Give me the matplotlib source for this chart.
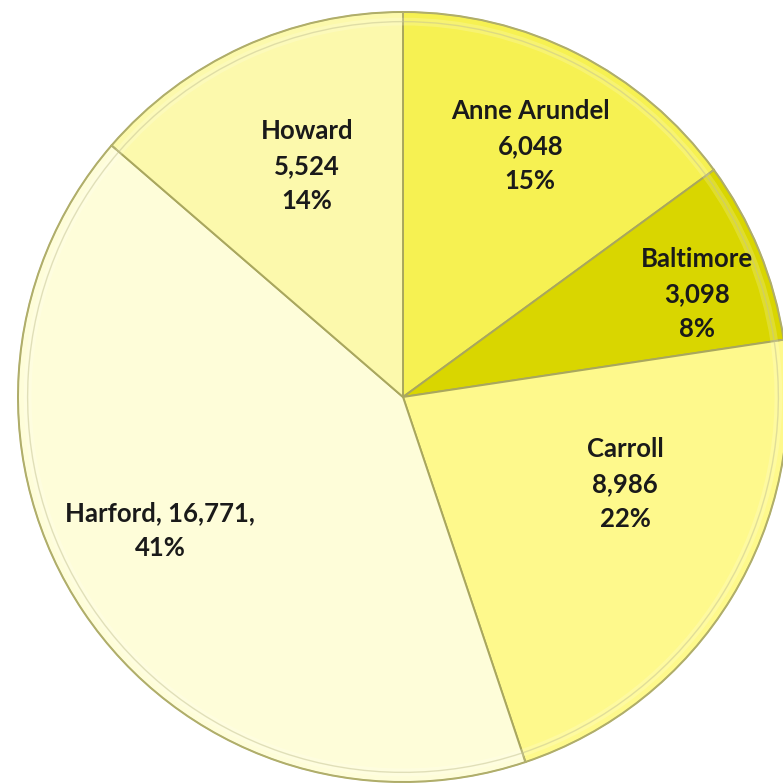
import matplotlib.pyplot as plt
import numpy as np
from matplotlib.patches import Wedge

counties = ["Anne Arundel", "Baltimore", "Carroll", "Harford", "Howard"]
counts = [6048, 3098, 8986, 16771, 5524]
colors = ["#F6F152", "#D9D600", "#FEF98C", "#FEFDD9", "#FCF9AC"]

# where each label sits: fraction of radius from centre, nudge of angle (deg)
label_r = [0.73, 0.81, 0.62, 0.72, 0.65]
label_nudge = [0, -3, 10, -5, -2]

plt.rcParams['font.family'] = ['Lato', 'DejaVu Sans']

fig = plt.figure(figsize=(7.83, 7.84), dpi=100)
ax = fig.add_axes([0, 0, 1, 1])

wedges, _ = ax.pie(counts, colors=colors, startangle=90, counterclock=False,
                   radius=1.0,
                   wedgeprops=dict(edgecolor="#A9A75E", linewidth=1.4))

# pie() resets the view, so set limits afterwards
R = 385.0
ax.set_xlim(-403 / R, 380 / R)
ax.set_ylim(-387 / R, 397 / R)
ax.set_aspect('equal')
ax.axis('off')

# soft bevel along the rim of each slice
for w in wedges:
    ax.add_patch(Wedge((0, 0), 1.0, w.theta1, w.theta2, width=0.025,
                       facecolor="none", edgecolor="#B8B67A", linewidth=1.0, alpha=0.5))
    ax.add_patch(Wedge((0, 0), 0.985, w.theta1, w.theta2, width=0.02,
                       facecolor="white", edgecolor="none", alpha=0.18))

total = sum(counts)
for i, w in enumerate(wedges):
    mid = np.deg2rad((w.theta1 + w.theta2) / 2 + label_nudge[i])
    x = label_r[i] * np.cos(mid)
    y = label_r[i] * np.sin(mid)
    pct = round(100 * counts[i] / total)
    if counties[i] == "Harford":
        txt = f"{counties[i]}, {counts[i]:,},\n{pct}%"
    else:
        txt = f"{counties[i]}\n{counts[i]:,}\n{pct}%"
    ax.text(x, y, txt, ha='center', va='center', fontsize=18.5, fontweight='bold',
            color="#1a1a1a", linespacing=1.55)

fig.savefig("out.png", dpi=100)
